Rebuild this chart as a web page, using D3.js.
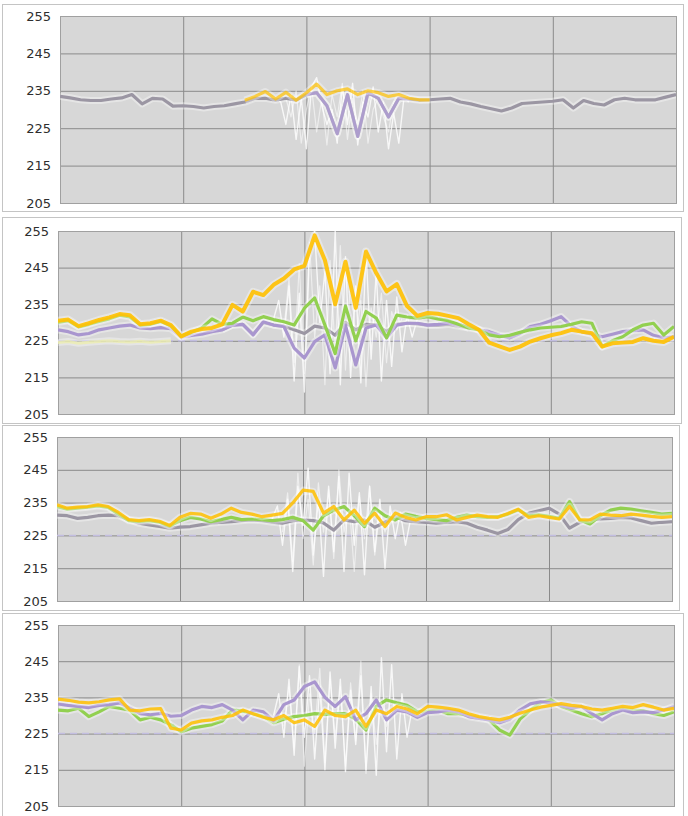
<!DOCTYPE html>
<html>
<head>
<meta charset="utf-8">
<script src="https://cdn.jsdelivr.net/npm/d3@7"></script>
<style>
  body { margin: 0; background: #fff; }
  svg { display: block; }
</style>
</head>
<body>
<div id="chart"></div>
<script>
// y ticks and x divisions shared by all four panels
const yTicks = [205, 215, 225, 235, 245, 255];
const xDivisions = [0, 12, 24, 36, 48, 60];

// panel 1
const p1Gray = [233.5, 233.1, 232.6, 232.4, 232.4, 232.8, 233.1, 234, 231.5, 233, 232.8, 230.9, 231, 230.8, 230.4, 230.8, 231, 231.5, 232, 233, 233, 232.5, 233, 232.5, 234, 234.5, 231, 223.5, 234, 222.8, 234.5, 233, 228, 233, 232.8, 232.5, 232.6, 232.8, 233, 232, 231.5, 230.8, 230.2, 229.6, 230.4, 231.6, 231.8, 232, 232.2, 232.6, 230.4, 232.4, 231.6, 231.2, 232.6, 233, 232.6, 232.6, 232.6, 233.3, 234];
const p1PurpleStart = 24;
const p1Purple = [234, 234.5, 231, 223.5, 234, 222.8, 234.5, 233, 228, 233, 232.8];
const p1YellowStart = 18;
const p1Yellow = [232.5, 233.5, 234.8, 232.8, 234.6, 232.5, 234.5, 236.8, 234, 235, 235.5, 234, 235, 234.5, 233.5, 234, 233, 232.6, 232.6];
const p1WhiteStart = 21;
const p1White = [233, 232, 226, 234, 222, 233, 219.5, 236, 238.5, 231, 226, 230, 221, 236, 226, 237, 220.5, 232, 228, 236, 224, 232, 219.5, 229, 221, 233, 232];
const p1White2Start = 22;
const p1White2 = [233, 228, 235, 221, 230, 236, 224, 233, 220.5, 234, 228, 237, 222, 233, 226, 235, 221, 230, 233, 228, 224, 232, 233];

// panel 2
const p2Yellow = [230.5, 230.8, 229, 229.8, 230.7, 231.4, 232.3, 232, 229.5, 229.8, 230.5, 229.3, 226.2, 227.5, 228.2, 228.5, 229.5, 234.8, 233, 238.4, 237.5, 240.3, 242, 244.5, 245.5, 253.8, 247, 235, 246.6, 234, 249.4, 243.5, 238.5, 240.5, 234.5, 231.8, 232.6, 232.4, 231.8, 231.2, 229.5, 228, 224.5, 223.5, 222.5, 223.4, 224.8, 225.7, 226.5, 227.1, 228, 227.5, 227.1, 223.4, 224.3, 224.5, 224.7, 225.7, 225, 224.7, 226.1];
const p2Green = [230, 230.5, 228.8, 229.5, 230.3, 231, 232, 231.5, 229.3, 229.5, 230.3, 229, 226.3, 227.3, 228.5, 231, 229.5, 229.8, 231.5, 230.5, 231.6, 230.8, 230.2, 229.3, 233.9, 236.7, 229.3, 221.5, 234.5, 225, 233, 231.2, 225.8, 232, 231.5, 231.2, 231.6, 231, 230.5, 229.5, 228.5, 228, 226.6, 226.1, 226.5, 227.3, 228, 228.5, 228.7, 228.9, 229.5, 230.2, 229.8, 223.4, 225, 226.1, 228, 229.3, 229.8, 226.6, 228.9];
const p2Purple = [228, 227.5, 226.6, 227, 228, 228.5, 229, 229.3, 228.5, 228.3, 228.6, 228.3, 226, 226.5, 226.8, 227.5, 228, 229.3, 229.5, 226.6, 230.2, 229.3, 228.9, 223, 220.3, 224.8, 226.6, 217.6, 229.3, 218.4, 228.5, 229.3, 225.8, 229.3, 229.8, 229.8, 229.3, 229.5, 229.8, 229.5, 228.8, 228, 227.5, 226.5, 225.8, 227, 228.9, 229.5, 230.5, 231.6, 229, 227.5, 226.8, 226.1, 226.8, 227.5, 227.8, 228, 226.5, 225.8, 226.1];
const p2GrayStart = 16;
const p2Gray = [228, 229.3, 229.5, 226.8, 230, 229.3, 229, 228, 227, 229, 228.5, 226.5, 230, 228, 229.5, 229.3, 227.5, 229.5, 229.8, 229.6, 229.3, 229.2, 229.5, 229, 228.5];
const p2Pale = [224.5, 224.8, 224.3, 224.6, 224.8, 225, 224.8, 224.7, 224.9, 224.6, 224.8, 225];
const p2WhiteStart = 21;
const p2White = [231, 236, 226, 240, 214, 238, 211, 250, 255, 230, 244, 216, 255, 213, 248, 215, 240, 213.5, 250, 220, 244, 214, 236, 218, 237, 222, 232, 226, 231];
const p2White2Start = 22;
const p2White2 = [228, 242, 219, 246, 216, 252, 226, 240, 213, 247, 222, 251, 217, 242, 225, 236, 212.5, 234, 226, 238, 219, 233, 228, 231];

// panel 3
const p3Yellow = [234.3, 233.3, 233.6, 233.8, 234.3, 233.8, 232, 229.8, 229.5, 229.8, 229.3, 228, 230.5, 231.7, 231.5, 230.2, 231.5, 233.3, 232, 231.5, 230.7, 231.2, 231.7, 234.9, 238.8, 238.4, 231.8, 233.8, 229.7, 232.7, 228.7, 231.8, 227.7, 231.8, 230.5, 229.7, 230.7, 230.7, 231.3, 229.7, 230.5, 231.2, 230.7, 230.5, 231.7, 233, 230.5, 231, 230.5, 230, 233.8, 229.8, 229.7, 231.5, 231.2, 231, 231.5, 231.2, 230.8, 230.5, 230.7];
const p3Green = [233.8, 233, 233.3, 233.6, 234, 233.5, 231.5, 229.5, 229.3, 229.5, 229, 227.8, 229.5, 230.5, 230, 229.2, 229.8, 230.5, 229.8, 230, 229.8, 229.5, 229.8, 230.5, 229.5, 226.6, 231, 232.7, 233.8, 231, 227.7, 233.3, 231, 229.7, 231.5, 230.8, 230.2, 229.8, 229.5, 230.5, 231.2, 230.7, 230.5, 230.7, 231.5, 232.8, 231, 231.3, 230.8, 230.2, 235.3, 229.7, 228.5, 231, 232.7, 233.3, 233, 232.5, 232, 231.5, 231.7];
const p3Purple = [231.2, 231, 230.2, 230.5, 231, 231.2, 231, 229.8, 228.7, 228.2, 227.7, 227.2, 227.5, 227.7, 228.2, 228.7, 229, 229.2, 229.5, 229.7, 229.5, 229, 228.7, 229.5, 229.7, 229.5, 228.8, 226.6, 229.7, 229.2, 229.7, 227.5, 229, 230.7, 229.5, 229.2, 229, 228.7, 229, 229.2, 228.7, 227.5, 226.6, 225.6, 226.8, 229.8, 231.7, 232.5, 233.3, 231.5, 227.2, 229, 229.7, 230, 230.2, 230.5, 230.3, 229.5, 228.7, 229, 229.2];
const p3WhiteStart = 21;
const p3White = [230, 234, 222, 236, 214, 240, 228, 245.5, 219, 236, 212.5, 240, 220, 243, 214, 244, 222, 238, 213, 240, 220, 236, 215, 234, 224, 232, 222, 230, 229];
const p3White2Start = 22;
const p3White2 = [226, 238, 217, 244, 224, 236, 216, 241, 226, 239, 218, 245, 226, 235, 214, 237, 224, 240, 219, 233, 226, 231];

// panel 4
const p4Yellow = [234.5, 234.2, 233.7, 233.5, 233.8, 234.3, 234.6, 231.5, 231.3, 231.8, 231.9, 226.5, 226, 227.9, 228.5, 228.8, 229.5, 230, 231.5, 230.5, 229.5, 228.8, 230, 228, 228.8, 227, 231.5, 230, 229.7, 231.5, 227, 231.5, 230.5, 232.5, 231.8, 230.5, 232.5, 232.3, 232, 231.5, 230.5, 229.7, 229.2, 228.8, 229.5, 230.6, 231.5, 232.3, 232.8, 233.3, 232.8, 232.5, 231.8, 231.5, 232, 232.5, 232.2, 233, 232.3, 231.5, 232];
const p4Green = [231.5, 231.3, 232, 229.7, 231, 232.5, 232, 231.5, 228.8, 229.5, 228.8, 227.4, 225.5, 226.5, 227, 227.5, 228.5, 231.5, 231.2, 230.5, 229.8, 228, 229, 229.7, 230, 230.5, 230.3, 230.5, 230.5, 229, 226, 232.5, 234.3, 233.5, 232.8, 231, 231.2, 231.5, 230.5, 230.5, 230, 229.5, 228.8, 226, 224.6, 229, 231.5, 233.5, 234.3, 232.5, 231.5, 230.5, 229.7, 230.5, 231.5, 232, 231.5, 231.3, 230.5, 230, 231];
const p4Purple = [233.2, 232.8, 232.5, 232.2, 232.8, 233, 233.5, 232, 230.5, 230.2, 230.6, 229.8, 230, 231.5, 232.5, 232.2, 233, 231.5, 228.8, 231.5, 231, 228.5, 233, 234.3, 238, 239.3, 235, 232.5, 235.2, 228.8, 230.5, 234.3, 228.8, 231.5, 231, 229.5, 230.8, 231, 231.5, 231, 229.7, 229.2, 228.8, 228, 229, 231.5, 233.2, 233.8, 233.5, 232.8, 232, 232.5, 230.5, 228.8, 230.5, 231.5, 230.8, 231, 230.8, 231.5, 232.5];
const p4WhiteStart = 21;
const p4White = [230, 236, 224, 240, 219, 243.5, 224, 241, 218, 238, 215, 242, 221, 240, 214.5, 237, 222, 241, 215, 238, 213.5, 246, 220, 244, 218, 236, 224, 232, 229];
const p4White2Start = 22;
const p4White2 = [227, 238, 221, 244, 216, 236, 225, 243, 217, 240, 224, 238, 216, 239, 223, 245, 214, 236, 222, 234, 227, 231];

const refLine = 225;

const colors = {
  gray: "#9b96a3",
  yellow: "#ffc000",
  green: "#92d050",
  purple: "#a996cf",
  pale: "#eef0a8",
  white: "#ffffff"
};

const panels = [
  { frame: [2, 4, 681, 207], plot: [60, 16, 676, 203], dashed: false,
    series: [
      { v: p1White, start: p1WhiteStart, step: 0.5, c: "white", w: 1.4 },
      { v: p1White2, start: p1White2Start, step: 0.5, c: "white", w: 1.2, o: 0.55 },
      { v: p1Gray, start: 0, step: 1, c: "gray", w: 3.2 },
      { v: p1Purple, start: p1PurpleStart, step: 1, c: "purple", w: 3, o: 0.8 },
      { v: p1Yellow, start: p1YellowStart, step: 1, c: "yellow", w: 3.2, o: 0.7 }
    ] },
  { frame: [2, 217, 679, 206], plot: [58, 231, 674, 414], dashed: true,
    series: [
      { v: p2White, start: p2WhiteStart, step: 0.5, c: "white", w: 1.4 },
      { v: p2White2, start: p2White2Start, step: 0.5, c: "white", w: 1.2, o: 0.55 },
      { v: p2Pale, start: 0, step: 1, c: "pale", w: 3, o: 0.7 },
      { v: p2Gray, start: p2GrayStart, step: 1, c: "gray", w: 3.2 },
      { v: p2Purple, start: 0, step: 1, c: "purple", w: 3.2 },
      { v: p2Green, start: 0, step: 1, c: "green", w: 3.2 },
      { v: p2Yellow, start: 0, step: 1, c: "yellow", w: 4, o: 0.9 }
    ] },
  { frame: [2, 425, 677, 185], plot: [57, 437, 672, 601], dashed: true,
    series: [
      { v: p3White, start: p3WhiteStart, step: 0.5, c: "white", w: 1.4 },
      { v: p3White2, start: p3White2Start, step: 0.5, c: "white", w: 1.2, o: 0.55 },
      { v: p3Purple, start: 0, step: 1, c: "gray", w: 3.2 },
      { v: p3Green, start: 0, step: 1, c: "green", w: 3.2 },
      { v: p3Yellow, start: 0, step: 1, c: "yellow", w: 3.2, o: 0.85 }
    ] },
  { frame: [2, 613, 681, 210], plot: [58, 625, 674, 806], dashed: true,
    series: [
      { v: p4White, start: p4WhiteStart, step: 0.5, c: "white", w: 1.4 },
      { v: p4White2, start: p4White2Start, step: 0.5, c: "white", w: 1.2, o: 0.55 },
      { v: p4Green, start: 0, step: 1, c: "green", w: 3.2 },
      { v: p4Purple, start: 0, step: 1, c: "purple", w: 3.2 },
      { v: p4Yellow, start: 0, step: 1, c: "yellow", w: 3.2, o: 0.85 }
    ] }
];

const svg = d3.select("#chart").append("svg")
  .attr("width", 688)
  .attr("height", 816);

panels.forEach((p, pi) => {
  const [fx, fy, fw, fh] = p.frame;
  const [x0, y0, x1, y1] = p.plot;

  svg.append("rect")
    .attr("x", fx + 0.5).attr("y", fy + 0.5)
    .attr("width", fw).attr("height", fh)
    .attr("fill", "#fff")
    .attr("stroke", "#c4c4c4");

  const x = d3.scaleLinear().domain([0, 60]).range([x0, x1]);
  const y = d3.scaleLinear().domain([205, 255]).range([y1, y0]);

  const g = svg.append("g");

  g.append("rect")
    .attr("x", x0).attr("y", y0)
    .attr("width", x1 - x0).attr("height", y1 - y0)
    .attr("fill", "#d7d7d7");

  // horizontal grid + labels
  g.append("g")
    .attr("transform", `translate(${x0},0)`)
    .call(d3.axisLeft(y).tickValues(yTicks).tickSize(-(x1 - x0)).tickSizeOuter(0).tickPadding(9).tickFormat(d3.format("d")))
    .call(a => a.select(".domain").remove())
    .call(a => a.selectAll("line").attr("stroke", "#8a8a8a"))
    .call(a => a.selectAll("text")
      .attr("fill", "#2e2e2e")
      .style("font-family", "DejaVu Sans, Verdana, sans-serif")
      .style("font-size", "13px"));

  // vertical grid
  g.append("g")
    .attr("transform", `translate(0,${y1})`)
    .call(d3.axisBottom(x).tickValues(xDivisions).tickSize(-(y1 - y0)).tickFormat(""))
    .call(a => a.select(".domain").remove())
    .call(a => a.selectAll("line").attr("stroke", "#8a8a8a"));

  g.append("rect")
    .attr("x", x0 + 0.5).attr("y", y0 + 0.5)
    .attr("width", x1 - x0).attr("height", y1 - y0)
    .attr("fill", "none")
    .attr("stroke", "#a0a0a0");

  const clipId = "clip" + pi;
  svg.append("clipPath").attr("id", clipId)
    .append("rect")
    .attr("x", x0).attr("y", y0)
    .attr("width", x1 - x0).attr("height", y1 - y0);

  const lines = g.append("g").attr("clip-path", `url(#${clipId})`);

  if (p.dashed) {
    lines.append("line")
      .attr("x1", x(0)).attr("x2", x(60))
      .attr("y1", y(refLine)).attr("y2", y(refLine))
      .attr("stroke", "#c2bde0")
      .attr("stroke-width", 1.5)
      .attr("stroke-dasharray", "7,5");
  }

  p.series.forEach(s => {
    const line = d3.line()
      .x((d, i) => x(s.start + i * s.step))
      .y(d => y(d));
    if (s.c !== "white") {
      lines.append("path")
        .datum(s.v)
        .attr("fill", "none")
        .attr("stroke", "#fff")
        .attr("stroke-opacity", 0.35)
        .attr("stroke-width", s.w + 4)
        .attr("stroke-linejoin", "round")
        .attr("d", line);
    }
    lines.append("path")
      .datum(s.v)
      .attr("fill", "none")
      .attr("stroke", colors[s.c])
      .attr("stroke-opacity", s.o || (s.c === "white" ? 0.8 : 1))
      .attr("stroke-width", s.w)
      .attr("stroke-linejoin", "round")
      .attr("d", line);
  });
});
</script>
</body>
</html>
